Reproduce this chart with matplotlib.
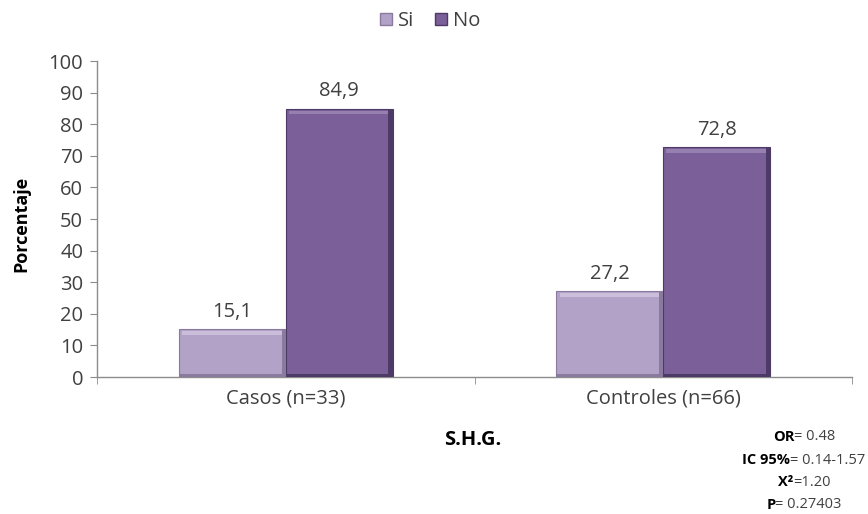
import matplotlib
matplotlib.use("Agg")
import matplotlib.pyplot as plt
from matplotlib.patches import Rectangle, Patch
import numpy as np

categories = ["Casos (n=33)", "Controles (n=66)"]
series_names = ["Si", "No"]
si_values = [15.1, 27.2]
no_values = [84.9, 72.8]
y_ticks = [0, 10, 20, 30, 40, 50, 60, 70, 80, 90, 100]
stats_lines = [("OR", "= 0.48"), ("IC 95%", "= 0.14-1.57"), ("X²", "=1.20"), ("P", "= 0.27403")]

plt.rcParams["font.family"] = ["Open Sans", "DejaVu Sans"]
text_color = "#404040"
colors = ["#b3a2c7", "#7b5f98"]
edge_dark = ["#8a7a9e", "#4e3a66"]
edge_light = ["#cbbedb", "#9580b0"]
fs = 14.5

fig = plt.figure(figsize=(8.68, 5.14), dpi=100)
ax = fig.add_axes([0.1118, 0.2665, 0.8698, 0.6148])

x = np.arange(len(categories))
width = 0.283
offsets = [-width / 2, width / 2]

for s, (vals, off) in enumerate(zip([si_values, no_values], offsets)):
    bars = ax.bar(x + off, vals, width, color=colors[s], edgecolor=edge_dark[s],
                  linewidth=0.8, zorder=2)
    for b, v in zip(bars, vals):
        bx, bw, bh = b.get_x(), b.get_width(), b.get_height()
        # bevel: light strip on top, darker strips on right and bottom
        ax.add_patch(Rectangle((bx + bw * 0.03, bh - 1.8), bw * 0.94, 1.2,
                               color=edge_light[s], lw=0, zorder=3))
        ax.add_patch(Rectangle((bx + bw * 0.96, 0), bw * 0.04, bh, color=edge_dark[s], lw=0, zorder=3))
        ax.add_patch(Rectangle((bx, 0), bw, 1.0, color=edge_dark[s], lw=0, zorder=3))
        ax.text(bx + bw / 2, bh + 2.3, f"{v:.1f}".replace(".", ","), ha="center",
                va="bottom", fontsize=fs, color=text_color)

ax.set_xlim(-0.5, 1.5)
ax.set_ylim(0, 100)
ax.set_yticks(y_ticks)
ax.tick_params(axis="y", labelsize=fs, colors="#8c8c8c", labelcolor=text_color,
               length=5, direction="out", pad=5)
ax.set_xticks(x)
ax.set_xticklabels(categories, fontsize=fs, color=text_color)
ax.tick_params(axis="x", which="major", length=0, pad=8)
ax.set_xticks([-0.5, 0.5, 1.5], minor=True)
ax.tick_params(axis="x", which="minor", length=5, color="#8c8c8c", direction="out")

for side in ["top", "right"]:
    ax.spines[side].set_visible(False)
for side in ["left", "bottom"]:
    ax.spines[side].set_color("#8c8c8c")
    ax.spines[side].set_linewidth(1.0)

ax.set_ylabel("Porcentaje", fontsize=13, fontweight="bold", color="black")
ax.yaxis.set_label_coords(-0.088, 0.483)
fig.text(473 / 868, 1 - 440 / 514, "S.H.G.", ha="center", va="center",
         fontsize=14.5, fontweight="bold", color="black")

handles = [Patch(facecolor=colors[i], edgecolor=edge_dark[i]) for i in range(2)]
fig.legend(handles, series_names, loc="center", bbox_to_anchor=(430 / 868, 1 - 21 / 514),
           ncol=2, frameon=False, fontsize=fs, handlelength=0.6, handleheight=0.6,
           handletextpad=0.3, columnspacing=1.0, labelcolor=text_color)

# statistics block, each line centered, bold label + normal value
fig.canvas.draw()
renderer = fig.canvas.get_renderer()
cx = 804
line_y = [437, 460, 482, 505]
for (bold, rest), yy in zip(stats_lines, line_y):
    yf = 1 - yy / 514
    t1 = fig.text(0, yf, bold, fontsize=10.5, fontweight="bold", color="black",
                  ha="left", va="center")
    t2 = fig.text(0, yf, rest, fontsize=10.5, color=text_color, ha="left", va="center")
    w1 = t1.get_window_extent(renderer).width
    w2 = t2.get_window_extent(renderer).width
    start = cx - (w1 + w2) / 2
    t1.set_x(start / 868)
    t2.set_x((start + w1) / 868)

fig.savefig("out.png", dpi=100, facecolor="white")
